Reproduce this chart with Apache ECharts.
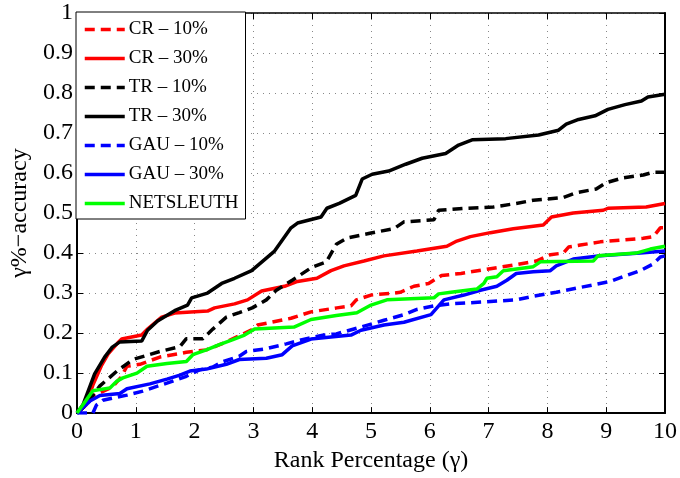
<!DOCTYPE html>
<html>
<head>
<meta charset="utf-8">
<script src="https://cdn.jsdelivr.net/npm/echarts@6/dist/echarts.min.js"></script>
<style>
  html, body { margin: 0; padding: 0; background: #fff; }
  #chart { width: 680px; height: 478px; }
</style>
</head>
<body>
<div id="chart"></div>
<script>
// Rank percentage (γ) vs. γ%-accuracy for each method / noise level.
var seriesNames = ['CR \u2013 10%', 'CR \u2013 30%', 'TR \u2013 10%', 'TR \u2013 30%', 'GAU \u2013 10%', 'GAU \u2013 30%', 'NETSLEUTH'];

var xTicks = [0, 1, 2, 3, 4, 5, 6, 7, 8, 9, 10];
var yTicks = [0, 0.1, 0.2, 0.3, 0.4, 0.5, 0.6, 0.7, 0.8, 0.9, 1];

var cr10 = [[0,0],[0.15,0.02],[0.3,0.045],[0.6,0.065],[0.75,0.09],[0.85,0.117],[1.07,0.122],[1.41,0.14],[1.86,0.152],[2.2,0.158],[2.54,0.178],[2.97,0.208],[3.07,0.22],[3.64,0.237],[3.98,0.253],[4.42,0.263],[4.66,0.268],[4.75,0.283],[5.0,0.295],[5.39,0.3],[5.5,0.302],[5.73,0.317],[5.98,0.324],[6.2,0.344],[6.53,0.349],[7.03,0.361],[7.47,0.371],[7.81,0.38],[8.05,0.396],[8.27,0.4],[8.36,0.415],[8.56,0.42],[8.9,0.428],[9.63,0.437],[9.8,0.441],[9.92,0.463],[10,0.463]];

var cr30 = [[0,0],[0.15,0.02],[0.27,0.07],[0.42,0.12],[0.53,0.148],[0.69,0.175],[0.76,0.185],[1.1,0.195],[1.2,0.21],[1.44,0.24],[1.66,0.25],[2.22,0.255],[2.34,0.263],[2.68,0.273],[2.9,0.283],[3.14,0.305],[3.53,0.317],[3.75,0.329],[4.08,0.337],[4.32,0.356],[4.54,0.368],[4.88,0.38],[5.22,0.393],[5.78,0.405],[6.29,0.417],[6.46,0.43],[6.69,0.441],[7.03,0.451],[7.42,0.461],[7.93,0.47],[8.07,0.49],[8.44,0.5],[8.95,0.507],[9.03,0.512],[9.68,0.515],[10,0.524]];

var tr10 = [[0,0],[0.15,0.02],[0.39,0.068],[0.68,0.105],[0.95,0.134],[1.41,0.154],[1.75,0.166],[1.86,0.186],[2.14,0.186],[2.31,0.21],[2.54,0.24],[2.76,0.251],[2.98,0.263],[3.22,0.283],[3.39,0.307],[3.66,0.332],[4.0,0.365],[4.24,0.378],[4.41,0.422],[4.6,0.438],[5.0,0.45],[5.39,0.461],[5.56,0.478],[6.07,0.483],[6.15,0.507],[6.63,0.512],[7.08,0.515],[7.47,0.524],[7.76,0.532],[8.27,0.539],[8.49,0.551],[8.83,0.56],[9.0,0.576],[9.29,0.588],[9.63,0.595],[9.8,0.602],[10,0.602]];

var tr30 = [[0,0],[0.1,0.02],[0.3,0.098],[0.47,0.14],[0.6,0.165],[0.73,0.178],[1.1,0.18],[1.2,0.207],[1.37,0.23],[1.66,0.256],[1.88,0.27],[1.95,0.288],[2.22,0.3],[2.46,0.324],[2.68,0.337],[2.97,0.356],[3.36,0.405],[3.64,0.463],[3.75,0.475],[4.15,0.49],[4.25,0.512],[4.46,0.524],[4.74,0.544],[4.85,0.585],[5.02,0.597],[5.3,0.605],[5.59,0.622],[5.87,0.637],[6.27,0.649],[6.49,0.67],[6.72,0.683],[7.29,0.686],[7.85,0.695],[8.19,0.707],[8.32,0.722],[8.53,0.734],[8.81,0.743],[9.03,0.759],[9.32,0.771],[9.6,0.78],[9.71,0.79],[10,0.797]];

var gau10 = [[0,0],[0.27,0],[0.33,0.02],[0.44,0.032],[0.85,0.045],[1.12,0.055],[1.53,0.075],[1.86,0.092],[2.08,0.108],[2.31,0.115],[2.47,0.128],[2.76,0.142],[2.88,0.154],[3.22,0.161],[3.56,0.173],[3.81,0.183],[4.2,0.195],[4.41,0.198],[4.83,0.215],[5.22,0.232],[5.56,0.246],[5.78,0.259],[6.07,0.268],[6.36,0.273],[6.92,0.278],[7.47,0.283],[7.76,0.292],[8.15,0.302],[8.49,0.312],[8.83,0.322],[9.07,0.329],[9.29,0.341],[9.58,0.356],[9.8,0.373],[9.92,0.39],[10,0.393]];

var gau30 = [[0,0],[0.22,0.03],[0.39,0.044],[0.73,0.049],[0.85,0.061],[1.24,0.073],[1.53,0.085],[1.75,0.095],[1.92,0.105],[2.2,0.11],[2.54,0.122],[2.76,0.134],[3.22,0.137],[3.49,0.146],[3.66,0.168],[3.98,0.185],[4.66,0.195],[4.83,0.207],[5.22,0.22],[5.56,0.227],[6.02,0.246],[6.24,0.283],[6.58,0.295],[6.86,0.307],[7.14,0.317],[7.31,0.332],[7.47,0.349],[7.76,0.353],[8.05,0.356],[8.15,0.368],[8.44,0.385],[8.9,0.393],[9.58,0.4],[10,0.405]];

var netsleuth = [[0,0],[0.27,0.056],[0.56,0.063],[0.68,0.08],[0.78,0.088],[1.02,0.1],[1.19,0.117],[1.53,0.124],[1.86,0.129],[1.97,0.146],[2.2,0.158],[2.42,0.171],[2.64,0.183],[2.85,0.195],[3.02,0.21],[3.69,0.215],[3.98,0.234],[4.41,0.244],[4.76,0.251],[5.0,0.27],[5.27,0.283],[6.07,0.288],[6.15,0.298],[6.36,0.302],[6.8,0.31],[6.92,0.324],[6.97,0.337],[7.14,0.341],[7.25,0.356],[7.76,0.366],[7.88,0.378],[8.78,0.38],[8.86,0.393],[9.51,0.4],[9.75,0.41],[10,0.417]];

var seriesData = [cr10, cr30, tr10, tr30, gau10, gau30, netsleuth];
var seriesColors = ['#ff0000', '#ff0000', '#000000', '#000000', '#0000ff', '#0000ff', '#00ff00'];
var seriesDashed = [true, false, true, false, true, false, false];

var FONT = '"Liberation Serif", "Times New Roman", serif';

var chart = echarts.init(document.getElementById('chart'), null, { renderer: 'canvas' });

var series = seriesNames.map(function (name, i) {
  return {
    name: name,
    type: 'line',
    data: seriesData[i],
    showSymbol: false,
    symbol: 'none',
    animation: false,
    z: 3,
    lineStyle: {
      color: seriesColors[i],
      width: 3.5,
      type: seriesDashed[i] ? [10, 6] : 'solid'
    },
    itemStyle: { color: seriesColors[i] }
  };
});

var axisLineStyle = { color: '#000', width: 1.5 };

chart.setOption({
  animation: false,
  backgroundColor: '#ffffff',
  textStyle: { fontFamily: FONT },
  grid: { left: 77, right: 13, top: 13, bottom: 55, containLabel: false },
  legend: {
    data: seriesNames,
    orient: 'vertical',
    left: 76,
    top: 12,
    padding: [8, 7, 6, 7],
    itemWidth: 40,
    itemHeight: 14,
    itemGap: 10,
    backgroundColor: '#ffffff',
    borderColor: '#000',
    borderWidth: 1,
    borderRadius: 0,
    z: 10,
    itemStyle: { opacity: 0, borderWidth: 0 },
    lineStyle: { width: 3.5 },
    textStyle: { fontFamily: FONT, fontSize: 19, color: '#000', padding: [0, 0, 0, -1] }
  },
  xAxis: [
    {
      type: 'value',
      min: xTicks[0],
      max: xTicks[xTicks.length - 1],
      interval: 1,
      position: 'bottom',
      name: 'Rank Percentage (\u03b3)',
      nameLocation: 'middle',
      nameGap: 28,
      nameTextStyle: { fontFamily: FONT, fontSize: 24, color: '#000' },
      axisLine: { show: true, lineStyle: { color: '#000', width: 2 } },
      axisTick: { show: true, inside: true, length: 6, lineStyle: { color: '#000' } },
      axisLabel: { fontFamily: FONT, fontSize: 24, color: '#000', margin: 7 },
      splitLine: { show: true, lineStyle: { color: '#888', width: 1, type: [1, 5] } }
    },
    {
      type: 'value',
      min: xTicks[0],
      max: xTicks[xTicks.length - 1],
      interval: 1,
      position: 'top',
      axisLine: { show: true, onZero: false, lineStyle: axisLineStyle },
      axisTick: { show: true, inside: true, length: 6, lineStyle: { color: '#000' } },
      axisLabel: { show: false },
      splitLine: { show: false }
    }
  ],
  yAxis: [
    {
      type: 'value',
      min: yTicks[0],
      max: yTicks[yTicks.length - 1],
      interval: 0.1,
      position: 'left',
      name: '\u03b3%\u2212accuracy',
      nameLocation: 'middle',
      nameGap: 43,
      nameTextStyle: { fontFamily: FONT, fontSize: 24, color: '#000' },
      axisLine: { show: true, lineStyle: { color: '#000', width: 2 } },
      axisTick: { show: true, inside: true, length: 6, lineStyle: { color: '#000' } },
      axisLabel: {
        fontFamily: FONT, fontSize: 24, color: '#000', margin: 4,
        formatter: function (v) { return String(Math.round(v * 10) / 10); }
      },
      splitLine: { show: true, lineStyle: { color: '#888', width: 1, type: [1, 5] } }
    },
    {
      type: 'value',
      min: yTicks[0],
      max: yTicks[yTicks.length - 1],
      interval: 0.1,
      position: 'right',
      axisLine: { show: true, onZero: false, lineStyle: { color: '#000', width: 2 } },
      axisTick: { show: true, inside: true, length: 6, lineStyle: { color: '#000' } },
      axisLabel: { show: false },
      splitLine: { show: false }
    }
  ],
  series: series
});
</script>
</body>
</html>
